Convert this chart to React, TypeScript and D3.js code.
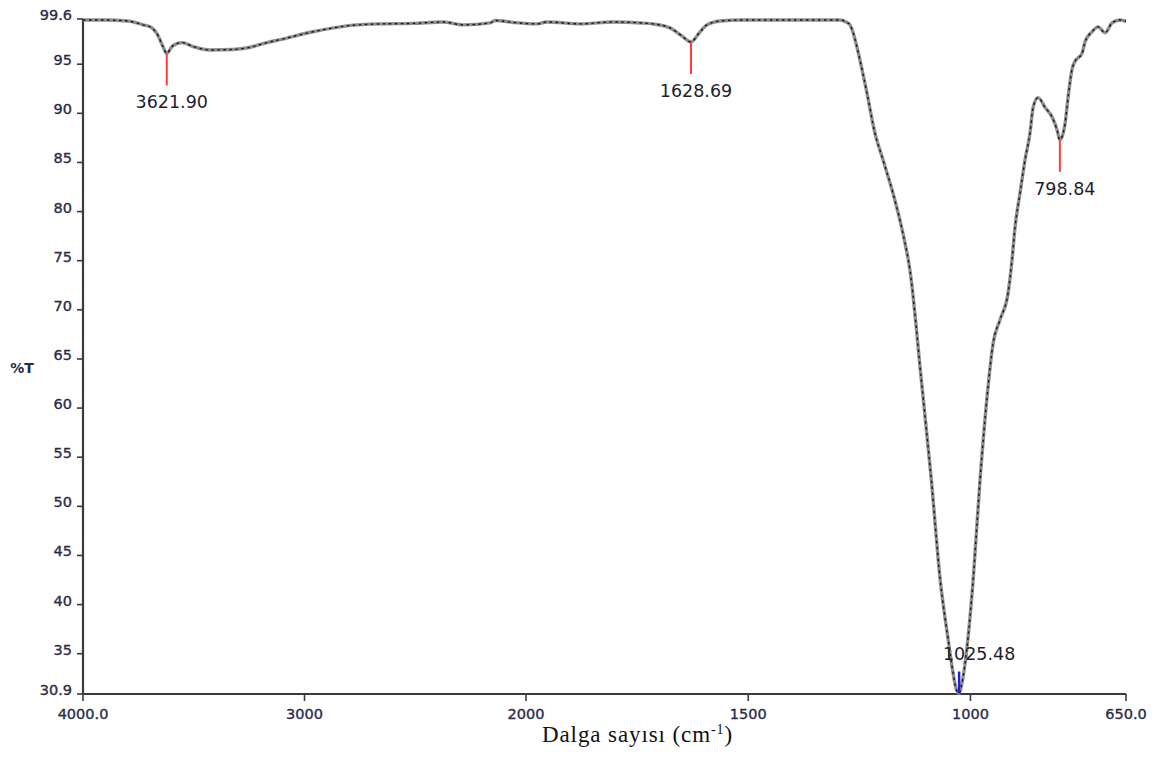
import React from "react";
import * as d3 from "d3";

// Spectrum (wavenumber cm-1, %T)
const wavenumbers = [
  4000, 3900, 3800, 3774, 3729, 3697, 3661, 3639, 3621.9, 3598, 3585, 3553, 3503, 3427, 3323, 3250, 3169, 3110,
  2962, 2808, 2659, 2510, 2375, 2284, 2162, 2140, 2058, 1975, 1953, 1878, 1804, 1743, 1714, 1676, 1650, 1628.69,
  1610, 1593, 1563, 1512, 1400, 1293, 1280, 1271, 1264, 1248.5, 1233, 1215, 1197, 1174.5, 1152, 1136, 1110.6,
  1088, 1068, 1050, 1039, 1032, 1025.48, 1020, 1007.6, 994, 978.4, 962.7, 949, 933.4, 915.4, 906.4, 899.7, 888.4,
  877.2, 866, 859, 848, 832, 816, 805, 798.84, 787, 780.4, 771.4, 764.6, 748.9, 742, 726.4, 713, 697, 681.4, 663.4,
  652, 650,
];
const transmittance = [
  99.5, 99.5, 99.4, 99.3, 99.0, 98.8, 97.9, 96.8, 96.1, 96.8, 97.0, 97.2, 96.8, 96.45, 96.5, 96.7, 97.2, 97.5,
  98.3, 98.9, 99.1, 99.15, 99.3, 99.0, 99.2, 99.45, 99.25, 99.1, 99.3, 99.1, 99.3, 99.2, 99.1, 98.7, 97.9, 97.26,
  98.2, 99.0, 99.4, 99.5, 99.5, 99.5, 99.3, 99.0, 98.2, 95.4, 92.1, 88.0, 85.3, 81.9, 77.8, 74.0, 62.9,
  52.7, 42.5, 36.4, 33.0, 31.4, 30.95, 31.8, 35.7, 42.5, 52.7, 61.1, 66.6, 69.0, 71.7, 75.1, 78.4, 81.9,
  85.25, 88.0, 90.6, 91.6, 90.6, 89.6, 88.3, 87.3, 89.0, 91.6, 94.5, 95.3, 96.1, 97.3, 98.3, 98.8, 98.2, 99.2, 99.5,
  99.4, 99.4,
];

// Peak annotations
const peakWavenumbers = [3621.9, 1628.69, 1025.48, 798.84];
const peakTransmittance = [96.1, 97.26, 30.95, 87.3];
const peakLabels = ["3621.90", "1628.69", "1025.48", "798.84"];
const peakColors = ["#ff3c3c", "#ff3c3c", "#1f1fe0", "#ff3c3c"];

// Axis ticks
const xTickValues = [4000, 3000, 2000, 1500, 1000, 650];
const xTickLabels = ["4000.0", "3000", "2000", "1500", "1000", "650.0"];
const yTickValues = [30.9, 35, 40, 45, 50, 55, 60, 65, 70, 75, 80, 85, 90, 95, 99.6];
const yTickLabels = ["30.9", "35", "40", "45", "50", "55", "60", "65", "70", "75", "80", "85", "90", "95", "99.6"];

const W = 1159;
const H = 758;
const left = 83;
const right = 1126;
const top = 19;
const bottom = 694;
const tickColor = "#2a2a48";

export default function App() {
  // FTIR axis with scale change at 2000 cm-1
  const x = d3.scaleLinear().domain([4000, 2000, 650]).range([left, left + (right - left) * (443 / 1043), right]);
  const y = d3.scaleLinear().domain([30.9, 99.6]).range([bottom, top]);

  const pts: [number, number][] = wavenumbers.map((w, i) => [w, transmittance[i]]);
  const line = d3
    .line<[number, number]>()
    .x((d) => x(d[0]))
    .y((d) => y(d[1]))
    .curve(d3.curveMonotoneX);
  const path = line(pts) || "";

  return (
    <svg
      width={W}
      height={H}
      style={{ position: "absolute", left: 0, top: 0, background: "#fff" }}
      fontFamily="'DejaVu Sans', Verdana, sans-serif"
    >
      <rect x={0} y={0} width={W} height={H} fill="#fff" />
      {/* Y axis */}
      <line x1={left} x2={left} y1={top} y2={bottom + 1} stroke="#3a3a3a" strokeWidth={2.2} />
      {yTickValues.map((v, i) => (
        <g key={"yt" + i}>
          <line x1={left - 6} x2={left} y1={y(v)} y2={y(v)} stroke="#3a3a3a" strokeWidth={1.6} />
          <text
            x={left - 11}
            y={y(v) + 1}
            textAnchor="end"
            fontSize={14.5}
            fill={tickColor}
            stroke={tickColor}
            strokeWidth={0.35}
          >
            {yTickLabels[i]}
          </text>
        </g>
      ))}
      {/* X axis */}
      <line x1={left - 1} x2={right} y1={bottom} y2={bottom} stroke="#3a3a3a" strokeWidth={2.2} />
      {xTickValues.map((v, i) => (
        <g key={"xt" + i}>
          <line x1={x(v)} x2={x(v)} y1={bottom} y2={bottom + 7} stroke="#3a3a3a" strokeWidth={1.6} />
          <text
            x={x(v)}
            y={bottom + 25}
            textAnchor="middle"
            fontSize={14.5}
            fill={tickColor}
            stroke={tickColor}
            strokeWidth={0.35}
          >
            {xTickLabels[i]}
          </text>
        </g>
      ))}
      {/* Axis titles */}
      <text x={22} y={373} textAnchor="middle" fontSize={14} fontWeight="bold" fill={tickColor}>
        %T
      </text>
      <text
        x={542}
        y={742}
        fontFamily="'Liberation Serif', 'Times New Roman', serif"
        fontSize={23}
        letterSpacing={0.9}
        fill="#111"
      >
        Dalga sayısı (cm
        <tspan fontSize={14} dy={-8}>
          -1
        </tspan>
        <tspan dy={8}>)</tspan>
      </text>

      {/* Spectrum */}
      <path d={path} fill="none" stroke="#8e8e8e" strokeWidth={3.4} strokeLinejoin="round" />
      <path d={path} fill="none" stroke="#161616" strokeWidth={1.4} strokeDasharray="2.5 3.5" />

      {/* Peak markers */}
      {peakWavenumbers.map((w, i) => {
        const px = x(w);
        const py = y(peakTransmittance[i]);
        const down = peakTransmittance[i] > 50;
        if (down) {
          return (
            <g key={"pk" + i}>
              <line x1={px} x2={px} y1={py} y2={py + 32} stroke={peakColors[i]} strokeWidth={2} />
              <text x={px + 5} y={py + 55} textAnchor="middle" fontSize={17.5} fill="#1e1e2e">
                {peakLabels[i]}
              </text>
            </g>
          );
        }
        return (
          <g key={"pk" + i}>
            <line x1={px} x2={px} y1={py - 22} y2={py} stroke={peakColors[i]} strokeWidth={2.5} />
            <text x={px + 20} y={py - 34} textAnchor="middle" fontSize={17.5} fill="#1e1e2e">
              {peakLabels[i]}
            </text>
          </g>
        );
      })}
    </svg>
  );
}
